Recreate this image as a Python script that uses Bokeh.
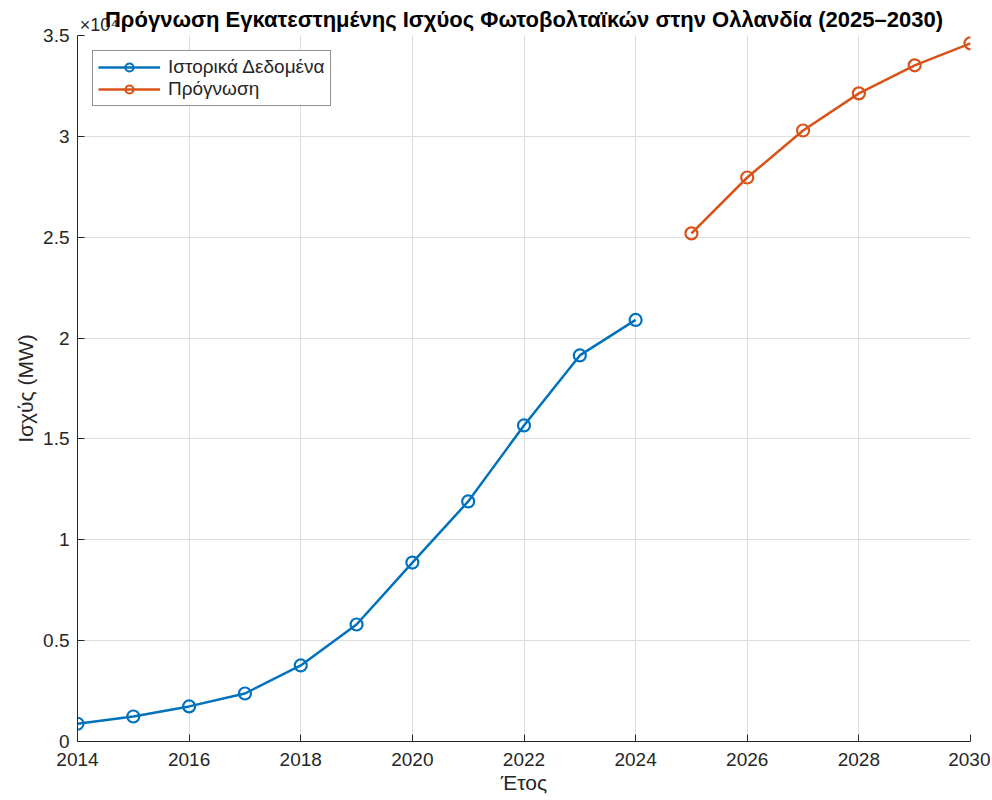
from bokeh.plotting import figure
from bokeh.models import (ColumnDataSource, FixedTicker, CustomJSTickFormatter,
                          Legend, LegendItem, LinearAxis, Range1d)
from bokeh.embed import file_html
from bokeh.resources import INLINE

# ---- data (MW) ----
hist_years = [2014, 2015, 2016, 2017, 2018, 2019, 2020, 2021, 2022, 2023, 2024]
hist_mw = [880, 1240, 1740, 2380, 3770, 5800, 8870, 11900, 15670, 19140, 20900]
fc_years = [2025, 2026, 2027, 2028, 2029, 2030]
fc_mw = [25190, 27960, 30290, 32130, 33520, 34610]
scale = 1e4
x_ticks = [2014, 2016, 2018, 2020, 2022, 2024, 2026, 2028, 2030]
y_ticks = [0, 0.5, 1, 1.5, 2, 2.5, 3, 3.5]

title_text = "Πρόγνωση Εγκατεστημένης Ισχύος Φωτοβολταϊκών στην Ολλανδία (2025–2030)"
exp_text = "×10⁴"
hist_label = "Ιστορικά Δεδομένα"
fc_label = "Πρόγνωση"
x_label = "Έτος"
y_label = "Ισχύς (MW)"

BLUE = "#0072BD"
ORANGE = "#D95319"
TXT = "#262626"
FONT = "Liberation Sans"
EXP_POS = 2014.385  # horizontal anchor of the exponent text

hist_src = ColumnDataSource(dict(x=hist_years, y=[v / scale for v in hist_mw]))
fc_src = ColumnDataSource(dict(x=fc_years, y=[v / scale for v in fc_mw]))

W, H = 990, 800
p = figure(width=W, height=H, output_backend="svg", toolbar_location=None,
           x_range=Range1d(2014, 2030), y_range=Range1d(0, 3.5),
           min_border_left=77, min_border_right=W - 970, min_border_top=35,
           min_border_bottom=H - 741)
p.outline_line_color = None
p.background_fill_color = "white"
p.border_fill_color = "white"

l1 = p.line("x", "y", source=hist_src, line_color=BLUE, line_width=2.5)
s1 = p.scatter("x", "y", source=hist_src, marker="circle", size=12,
               line_color=BLUE, line_width=2.2, fill_color=None)
l2 = p.line("x", "y", source=fc_src, line_color=ORANGE, line_width=2.5)
s2 = p.scatter("x", "y", source=fc_src, marker="circle", size=12,
               line_color=ORANGE, line_width=2.2, fill_color=None)

for ax in (p.xaxis[0], p.yaxis[0]):
    ax.axis_line_color = TXT
    ax.axis_line_width = 1
    ax.major_tick_line_color = TXT
    ax.major_tick_in = 7
    ax.major_tick_out = 0
    ax.minor_tick_line_color = None
    ax.major_label_text_font = FONT
    ax.major_label_text_font_size = "19px"
    ax.major_label_text_color = TXT
    ax.axis_label_text_font = FONT
    ax.axis_label_text_font_size = "21px"
    ax.axis_label_text_font_style = "normal"
    ax.axis_label_text_color = TXT

p.xaxis.major_label_standoff = 11
p.yaxis.major_label_standoff = 8
p.xaxis.ticker = FixedTicker(ticks=x_ticks)
p.yaxis.ticker = FixedTicker(ticks=y_ticks)
p.yaxis.formatter = CustomJSTickFormatter(code="return tick.toString();")
p.xaxis.axis_label = x_label
p.yaxis.axis_label = y_label
p.xaxis.axis_label_standoff = 2
p.yaxis.axis_label_standoff = 3

# top axis: carries the exponent (as its only tick label) and the title
top = LinearAxis(ticker=FixedTicker(ticks=[EXP_POS]),
                 formatter=CustomJSTickFormatter(code="return '%s';" % exp_text))
top.axis_line_color = None
top.major_tick_line_color = None
top.minor_tick_line_color = None
top.major_tick_in = 0
top.major_tick_out = 0
top.major_label_standoff = 1
top.major_label_text_font = FONT
top.major_label_text_font_size = "18px"
top.major_label_text_color = TXT
top.axis_label = title_text
top.axis_label_text_font = FONT
top.axis_label_text_font_size = "22px"
top.axis_label_text_font_style = "bold"
top.axis_label_text_color = "black"
top.axis_label_standoff = -20
p.add_layout(top, "above")

p.xgrid.grid_line_color = "#dedede"
p.ygrid.grid_line_color = "#dedede"
p.xgrid.grid_line_width = 1
p.ygrid.grid_line_width = 1

legend = Legend(items=[LegendItem(label=hist_label, renderers=[l1, s1]),
                       LegendItem(label=fc_label, renderers=[l2, s2])],
                location=(15, 635), orientation="vertical")
legend.label_text_font = FONT
legend.label_text_font_size = "19px"
legend.label_text_color = TXT
legend.glyph_width = 62
legend.glyph_height = 20
legend.label_height = 20
legend.label_standoff = 8
legend.spacing = 0
legend.padding = 5
legend.margin = 0
legend.border_line_color = TXT
legend.border_line_width = 1
legend.background_fill_alpha = 1
p.add_layout(legend, "center")

open("out.html", "w").write(file_html(p, INLINE))
